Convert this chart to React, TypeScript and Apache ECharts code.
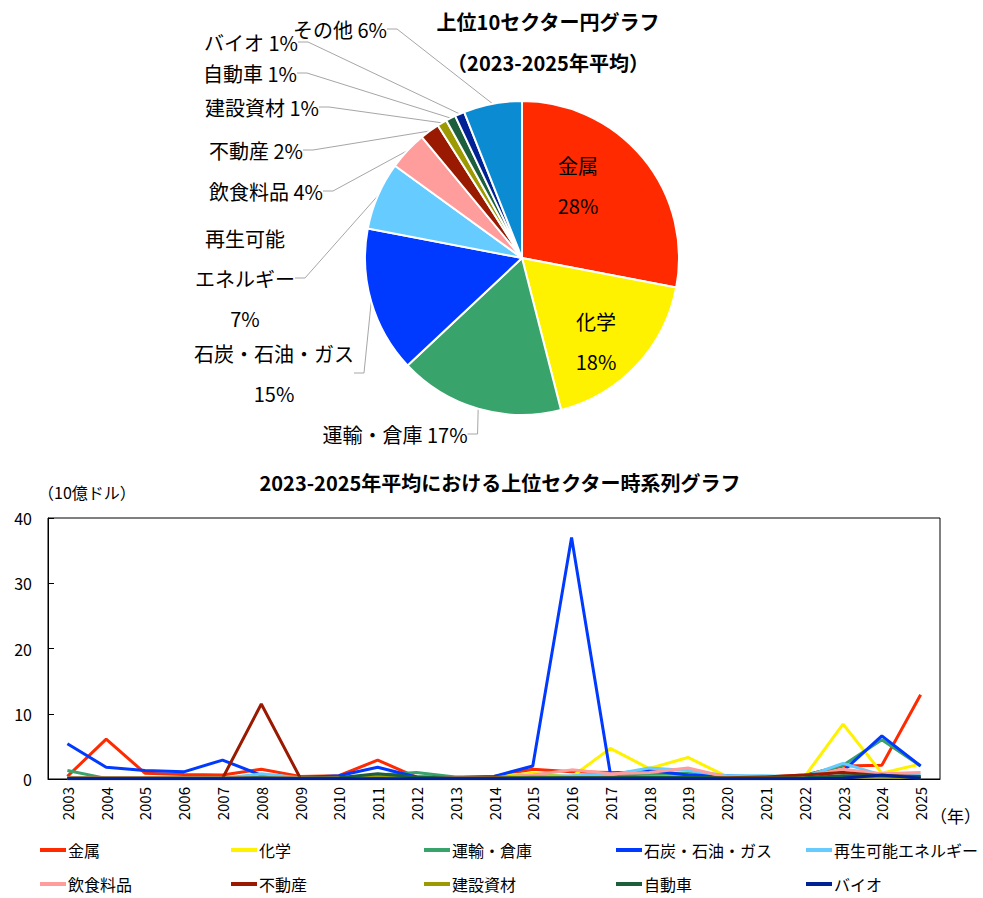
import React, { useEffect, useRef } from 'react';
import * as echarts from 'echarts';

const FONT = '"Noto Sans CJK JP", "Noto Sans", sans-serif';

// ---- Pie data (2023-2025 average share, %) ----
const pieNames = ['金属', '化学', '運輸・倉庫', '石炭・石油・ガス', '再生可能エネルギー', '飲食料品', '不動産', '建設資材', '自動車', 'バイオ', 'その他'];
const pieValues = [28, 18, 17, 15, 7, 4, 2, 1, 1, 1, 6];
const pieLabelNames = ['金属', '化学', '運輸・倉庫', '石炭・石油・ガス', '再生可能\nエネルギー', '飲食料品', '不動産', '建設資材', '自動車', 'バイオ', 'その他'];

// ---- Line data (10億ドル) ----
const years = ['2003', '2004', '2005', '2006', '2007', '2008', '2009', '2010', '2011', '2012', '2013', '2014', '2015', '2016', '2017', '2018', '2019', '2020', '2021', '2022', '2023', '2024', '2025'];
const metal = [0.4, 6.1, 0.9, 0.7, 0.6, 1.5, 0.4, 0.5, 2.9, 0.3, 0.2, 0.4, 1.5, 1.1, 1.0, 1.0, 0.8, 0.3, 0.3, 0.6, 2.0, 2.1, 12.9];
const chemical = [0.1, 0.1, 0.1, 0.1, 0.1, 0.1, 0.1, 0.1, 0.2, 0.1, 0.3, 0.4, 0.9, 0.3, 4.7, 1.6, 3.3, 0.4, 0.2, 0.3, 8.4, 0.9, 2.3];
const transport = [1.3, 0.1, 0.1, 0.1, 0.1, 0.3, 0.1, 0.2, 0.6, 1.0, 0.3, 0.3, 0.5, 0.4, 0.5, 0.8, 0.9, 0.3, 0.2, 0.5, 2.1, 6.0, 2.0];
const fossil = [5.4, 1.8, 1.3, 1.1, 2.9, 0.6, 0.2, 0.5, 1.8, 0.3, 0.2, 0.4, 2.0, 37.0, 0.8, 1.3, 0.6, 0.5, 0.3, 0.3, 1.2, 6.6, 2.0];
const renewable = [0.1, 0.1, 0.1, 0.1, 0.1, 0.8, 0.2, 0.2, 0.3, 0.1, 0.1, 0.2, 0.3, 0.5, 0.6, 1.7, 1.3, 0.5, 0.5, 0.3, 2.4, 0.6, 0.6];
const food = [0.2, 0.2, 0.2, 0.2, 0.2, 0.3, 0.2, 0.2, 0.3, 0.2, 0.2, 0.2, 0.6, 1.4, 0.8, 1.0, 1.7, 0.3, 0.2, 0.3, 1.5, 0.8, 1.0];
const realEstate = [0.1, 0.1, 0.1, 0.1, 0.1, 11.5, 0.2, 0.1, 0.2, 0.1, 0.1, 0.2, 0.2, 0.2, 0.2, 0.2, 0.2, 0.2, 0.3, 0.6, 1.0, 0.5, 0.4];
const construction = [0.1, 0.1, 0.1, 0.1, 0.1, 0.1, 0.1, 0.1, 0.5, 0.1, 0.1, 0.1, 0.3, 0.1, 0.1, 0.1, 0.1, 0.1, 0.1, 0.1, 0.3, 0.3, 0.2];
const auto = [0.1, 0.1, 0.1, 0.1, 0.1, 0.2, 0.1, 0.2, 0.8, 0.3, 0.1, 0.1, 0.2, 0.2, 0.2, 0.3, 0.3, 0.1, 0.1, 0.2, 0.5, 0.5, 0.3];
const bio = [0.05, 0.05, 0.05, 0.05, 0.05, 0.05, 0.05, 0.05, 0.05, 0.05, 0.05, 0.05, 0.05, 0.05, 0.05, 0.05, 0.05, 0.05, 0.05, 0.05, 0.1, 0.6, 0.1];

const lineNames = ['金属', '化学', '運輸・倉庫', '石炭・石油・ガス', '再生可能エネルギー', '飲食料品', '不動産', '建設資材', '自動車', 'バイオ'];
const lineData = [metal, chemical, transport, fossil, renewable, food, realEstate, construction, auto, bio];
const yTicks = [0, 10, 20, 30, 40];

const colors = ['#FF2A00', '#FFF200', '#38A36B', '#0039FF', '#66CCFF', '#FF9C9C', '#991A00', '#9C9A00', '#1D5E3C', '#002295', '#0A8BD2'];

// label anchor positions (layout only)
const pieLabelPos = [[578, 185], [596, 341], [395, 434], [274, 373], [245, 278], [266, 191], [256, 150], [262, 107], [250, 73], [251, 42], [340, 29]];
const legendCols = [40, 231, 424, 616, 806];
const legendRows = [853, 887];

export default function App() {
  const ref = useRef<HTMLDivElement>(null);
  useEffect(() => {
    document.body.style.margin = '0';
    const chart = echarts.init(ref.current!, null, { renderer: 'svg' });

    const pieData = pieNames.map((n, i) => {
      const inside = i < 2;
      const wrap = i < 5 && i !== 2;
      return {
        name: n,
        value: pieValues[i],
        itemStyle: { color: colors[i] },
        label: {
          formatter: pieLabelNames[i] + (wrap ? '\n' : ' ') + pieValues[i] + '%',
        },
        labelLine: { show: !inside },
      };
    });

    const legends = lineNames.map((n, i) => ({
      data: [n],
      left: legendCols[i % 5],
      top: legendRows[Math.floor(i / 5)] - 11,
      icon: 'rect',
      itemWidth: 26,
      itemHeight: 4,
      itemGap: 0,
      padding: 0,
      textStyle: { fontSize: 16, color: '#000', fontFamily: FONT, padding: [0, 0, 0, -3] },
    }));

    const option: any = {
      animation: false,
      textStyle: { fontFamily: FONT },
      graphic: [
        { type: 'text', x: 548, y: 21, style: { text: '上位10セクター円グラフ', fontSize: 20, fontWeight: 'bold', fontFamily: FONT, fill: '#000', align: 'center', verticalAlign: 'middle' } },
        { type: 'text', x: 548, y: 62, style: { text: '（2023-2025年平均）', fontSize: 20, fontWeight: 'bold', fontFamily: FONT, fill: '#000', align: 'center', verticalAlign: 'middle' } },
        { type: 'text', x: 500, y: 482, style: { text: '2023-2025年平均における上位セクター時系列グラフ', fontSize: 20, fontWeight: 'bold', fontFamily: FONT, fill: '#000', align: 'center', verticalAlign: 'middle' } },
        { type: 'text', x: 38, y: 492, style: { text: '（10億ドル）', fontSize: 16, fontFamily: FONT, fill: '#000', align: 'left', verticalAlign: 'middle' } },
        { type: 'text', x: 930, y: 815, style: { text: '（年）', fontSize: 17, fontFamily: FONT, fill: '#000', align: 'left', verticalAlign: 'middle' } },
      ],
      legend: legends,
      grid: { left: 48, top: 518, width: 892, height: 261, show: true, borderColor: '#000', borderWidth: 1, containLabel: false },
      xAxis: {
        type: 'category',
        data: years,
        boundaryGap: true,
        axisLine: { lineStyle: { color: '#000' } },
        axisTick: { show: false },
        axisLabel: { rotate: 90, fontSize: 15, color: '#000', fontFamily: FONT, margin: 8, interval: 0 },
      },
      yAxis: {
        type: 'value',
        min: yTicks[0],
        max: yTicks[yTicks.length - 1],
        interval: 10,
        splitLine: { show: false },
        axisLine: { show: true, lineStyle: { color: '#000' } },
        axisTick: { show: true, inside: true, length: 6, lineStyle: { color: '#000' } },
        axisLabel: { fontSize: 16, color: '#000', fontFamily: FONT, margin: 16 },
      },
      series: [
        {
          type: 'pie',
          center: [522, 258],
          radius: 157,
          startAngle: 90,
          clockwise: true,
          data: pieData,
          itemStyle: { borderColor: '#fff', borderWidth: 2 },
          label: { show: true, fontSize: 20, lineHeight: 40, color: '#000', fontFamily: FONT, align: 'center' },
          labelLine: { show: true, length: 10, length2: 10, lineStyle: { color: '#a6a6a6', width: 1 } },
          labelLayout: (p: any) => {
            const pos = pieLabelPos[p.dataIndex];
            return { x: pos[0], y: pos[1], align: 'center', verticalAlign: 'middle', hideOverlap: false };
          },
          emphasis: { disabled: true },
        },
        ...lineNames.map((n, i) => ({
          type: 'line',
          name: n,
          data: lineData[i],
          symbol: 'none',
          lineStyle: { color: colors[i], width: 3 },
          itemStyle: { color: colors[i] },
          emphasis: { disabled: true },
        })),
      ],
    };
    chart.setOption(option);
    return () => chart.dispose();
  }, []);
  return <div ref={ref} style={{ width: 983, height: 898 }} />;
}
